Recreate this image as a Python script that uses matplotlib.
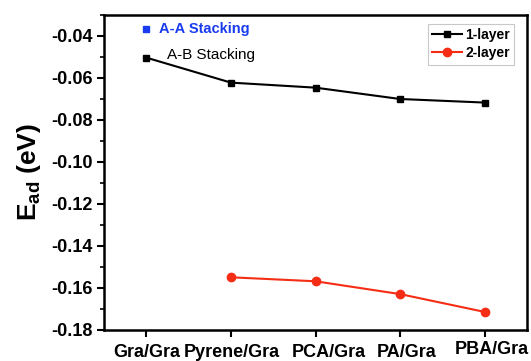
import matplotlib
matplotlib.use("Agg")
import matplotlib.pyplot as plt
from matplotlib.ticker import MultipleLocator
from matplotlib.transforms import ScaledTranslation

plt.rcParams['font.family'] = ['Liberation Sans', 'DejaVu Sans']
plt.rcParams['mathtext.fontset'] = 'custom'
plt.rcParams['mathtext.bf'] = 'Liberation Sans:bold'
plt.rcParams['mathtext.rm'] = 'Liberation Sans'

categories = ["Gra/Gra", "Pyrene/Gra", "PCA/Gra", "PA/Gra", "PBA/Gra"]
layer1 = [-0.0503, -0.0622, -0.0646, -0.0700, -0.0717]
layer2_x = [1, 2, 3, 4]
layer2 = [-0.1549, -0.1568, -0.1629, -0.1714]
aa_value = -0.0367
yticks = [-0.18, -0.16, -0.14, -0.12, -0.10, -0.08, -0.06, -0.04]

fig = plt.figure(figsize=(5.31, 3.61), dpi=100)
ax = fig.add_axes([104/531, 1-330/361, (527-104)/531, (330-15)/361])

x = list(range(len(categories)))
ax.plot(x, layer1, color='black', marker='s', markersize=5, linewidth=1.5, label='1-layer')
ax.plot(layer2_x, layer2, color='#f52d14', marker='o', markersize=6, linewidth=1.5, label='2-layer')
ax.plot([0], [aa_value], linestyle='none', marker='s', markersize=5, color='#1a3cf0')
ax.text(0.15, aa_value, 'A-A Stacking', color='#1a3cf0', fontsize=10.5, fontweight='bold', va='center')
ax.text(0.25, -0.049, 'A-B Stacking', color='black', fontsize=11, fontweight='medium', va='center')

ax.set_xlim(-0.5, 4.5)
ax.set_ylim(-0.18, -0.03)
ax.set_xticks(x)
ax.set_xticklabels(categories, fontsize=13, fontweight='bold')
ax.yaxis.set_minor_locator(MultipleLocator(0.01))
ax.set_yticks(yticks)
ax.set_yticklabels(['%.2f' % v for v in yticks], fontsize=13, fontweight='bold')
ax.tick_params(axis='both', which='major', direction='out', length=5, width=1.5, pad=3)
ax.tick_params(axis='x', which='major', pad=5)
ax.tick_params(axis='y', which='minor', direction='out', length=3, width=1.2)
for s in ax.spines.values():
    s.set_linewidth(1.8)

# slight manual label offsets as in the original (pixels at 100 dpi)
offsets = [(0, 0), (1, 0), (13, 0), (7, 0), (7, 3)]
for lab, (dx, dy) in zip(ax.get_xticklabels(), offsets):
    lab.set_transform(lab.get_transform() + ScaledTranslation(dx/100, dy/100, fig.dpi_scale_trans))

ax.set_ylabel(r'$\mathbf{E_{ad}}$ (eV)', fontsize=19, fontweight='bold', labelpad=6)

leg = ax.legend(loc='upper right', bbox_to_anchor=(514/531, 1-24/361), bbox_transform=fig.transFigure,
                fontsize=10, frameon=True, fancybox=False,
                handlelength=2.2, handletextpad=0.2, borderpad=0.3, labelspacing=0.3,
                borderaxespad=0.0)
leg.get_frame().set_edgecolor('#bbbbbb')
leg.get_frame().set_linewidth(0.8)
for t in leg.get_texts():
    t.set_fontweight('bold')

fig.savefig('out.png', dpi=100)
